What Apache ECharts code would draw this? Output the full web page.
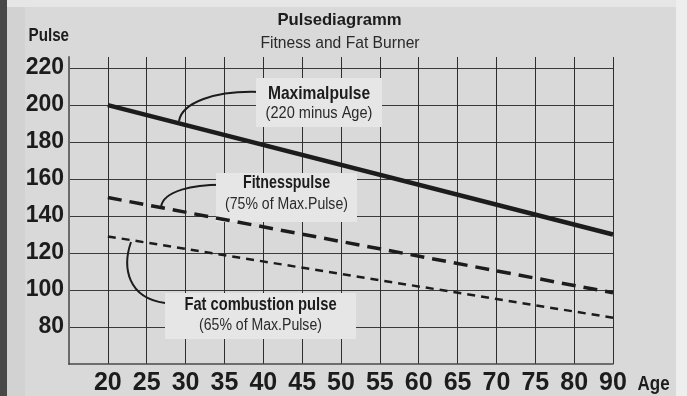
<!DOCTYPE html>
<html>
<head>
<meta charset="utf-8">
<script src="https://cdn.jsdelivr.net/npm/echarts@6/dist/echarts.min.js"></script>
<style>
  html, body { margin: 0; padding: 0; background: #ececec; }
  #chart { width: 687px; height: 396px; }
</style>
</head>
<body>
<div id="chart"></div>
<script>
// Age ticks along the bottom (80 -> 90 shares one step)
const ages = [20, 25, 30, 35, 40, 45, 50, 55, 60, 65, 70, 75, 80, 90];
// Pulse ticks on the left
const pulseTicks = [80, 100, 120, 140, 160, 180, 200, 220];

// Pulse values at the first and last age
const maxPulse = [200, 130];      // Maximalpulse (220 minus Age)
const fitnessPulse = [150, 98.5]; // 75% of Max.Pulse
const fatPulse = [129, 85];       // 65% of Max.Pulse

const categories = [''].concat(ages.map(String));
const ends = [String(ages[0]), String(ages[ages.length - 1])];
const pairs = vals => vals.map((v, i) => [ends[i], v]);

const fam = '"Liberation Sans", Arial, sans-serif';
const ink = '#1c1c1c';

const chart = echarts.init(document.getElementById('chart'), null, { renderer: 'canvas' });

// condensed text: a regular face squeezed horizontally
function label(text, x, y, size, bold, sx, align, color) {
  return {
    type: 'text', z: 1, x: x, y: y, scaleX: sx,
    style: {
      text: text, fill: color || ink,
      font: (bold ? 'bold ' : '') + size + 'px ' + fam,
      align: align || 'center', verticalAlign: 'middle'
    }
  };
}

function callout(x, y, w, h, title, titleSx, titleY, sub, subSx, subY) {
  return [
    { type: 'rect', z: 1, shape: { x: x, y: y, width: w, height: h }, style: { fill: '#e6e6e6' } },
    label(title, x + w / 2, titleY, 19, true, titleSx),
    label(sub, x + w / 2, subY, 16, false, subSx, 'center', '#2a2a2a')
  ];
}

function leader(x1, y1, cpx1, cpy1, cpx2, cpy2, x2, y2) {
  return {
    type: 'bezierCurve', z: 1,
    shape: { x1: x1, y1: y1, cpx1: cpx1, cpy1: cpy1, cpx2: cpx2, cpy2: cpy2, x2: x2, y2: y2 },
    style: { stroke: ink, lineWidth: 2, fill: null }
  };
}

const graphics = [
  // page backdrop
  { type: 'rect', z: -5, shape: { x: 0, y: 0, width: 687, height: 396 }, style: { fill: '#e6e6e6' } },
  { type: 'rect', z: -5, shape: { x: 7, y: 7, width: 18, height: 389 }, style: { fill: '#d2d2d2' } },
  { type: 'rect', z: -5, shape: { x: 25, y: 7, width: 651, height: 389 }, style: { fill: '#d9d9d9' } },
  { type: 'rect', z: -5, shape: { x: 676, y: 0, width: 11, height: 396 }, style: { fill: '#eeeeee' } },
  { type: 'rect', z: -5, shape: { x: 0, y: 0, width: 7, height: 396 }, style: { fill: '#484848' } },
  // headings and axis captions
  label('Pulsediagramm', 339.5, 20.5, 17, true, 0.98),
  label('Fitness and Fat Burner', 340, 43, 17, false, 0.92, 'center', '#2a2a2a'),
  label('Pulse', 28.5, 35.5, 19, true, 0.8, 'left'),
  label('Age', 637.5, 384, 20, true, 0.85, 'left'),
  // callout leaders
  leader(261, 92, 214, 90, 182, 103, 179, 121),
  leader(234, 185, 190, 183, 163, 192, 161, 207),
  leader(165, 303, 128, 298, 122, 268, 131, 242)
]
  .concat(callout(256, 78, 126, 49, 'Maximalpulse', 0.82, 93.5, '(220 minus Age)', 0.91, 114))
  .concat(callout(216, 173, 141, 49, 'Fitnesspulse', 0.75, 183, '(75% of Max.Pulse)', 0.88, 205))
  .concat(callout(165, 293, 191, 46, 'Fat combustion pulse', 0.775, 305, '(65% of Max.Pulse)', 0.88, 325.5));

const option = {
  backgroundColor: '#e6e6e6',
  animation: false,
  grid: { left: 69, right: 74, top: 57, bottom: 30 },
  xAxis: {
    type: 'category',
    data: categories,
    boundaryGap: false,
    axisLine: { show: true, lineStyle: { color: '#4a4a4a', width: 1.5 } },
    axisTick: { show: false },
    axisLabel: { margin: 7, color: ink, fontFamily: fam, fontWeight: 'bold', fontSize: 25, interval: 0 },
    splitLine: { show: true, lineStyle: { color: '#2e2e2e', width: 1 } }
  },
  yAxis: {
    type: 'value',
    min: 60,
    max: 226,
    interval: 20,
    axisLine: { show: true, lineStyle: { color: '#6a6a6a', width: 2 } },
    axisTick: { show: false },
    axisLabel: {
      margin: 5, color: ink, fontFamily: fam, fontWeight: 'bold', fontSize: 23,
      formatter: v => (pulseTicks.indexOf(v) >= 0 ? String(v) : '')
    },
    splitLine: { show: true, showMinLine: false, showMaxLine: false, lineStyle: { color: '#3a3a3a', width: 1.2 } }
  },
  series: [
    { name: 'Maximalpulse', type: 'line', z: 3, symbol: 'none', data: pairs(maxPulse),
      lineStyle: { color: ink, width: 4.5, type: 'solid', cap: 'butt' } },
    { name: 'Fitnesspulse', type: 'line', z: 3, symbol: 'none', data: pairs(fitnessPulse),
      lineStyle: { color: ink, width: 3.5, type: [14, 8], cap: 'butt' } },
    { name: 'Fat combustion pulse', type: 'line', z: 3, symbol: 'none', data: pairs(fatPulse),
      lineStyle: { color: ink, width: 2.5, type: [8, 6], cap: 'butt' } }
  ],
  graphic: { elements: graphics }
};

chart.setOption(option);
</script>
</body>
</html>
